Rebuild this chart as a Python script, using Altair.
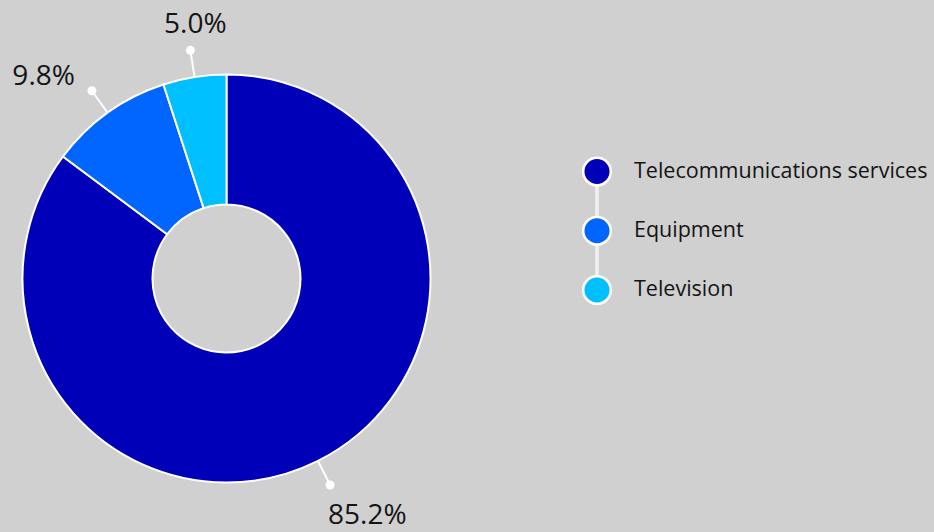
import altair as alt
import pandas as pd

categories = ["Telecommunications services", "Equipment", "Television"]
shares = [85.2, 9.8, 5.0]
labels = ["85.2%", "9.8%", "5.0%"]
colors = ["#0000B8", "#0066FF", "#00BFFF"]

df = pd.DataFrame({
    "category": categories,
    "value": shares,
    "label": labels,
    "idx": list(range(len(categories))),
})

CX, CY = 226.5, 278.5
R_OUT, R_IN = 204, 74
R_DOT = 231
FONT = "Open Sans"
TXT = "#141414"

color_scale = alt.Scale(domain=categories, range=colors)

base = alt.Chart(df)

ring = base.mark_arc(
    outerRadius=R_OUT, innerRadius=R_IN, stroke="white", strokeWidth=2
).encode(
    theta=alt.Theta("value:Q", stack=True),
    color=alt.Color("category:N", scale=color_scale, legend=None),
    order=alt.Order("idx:Q"),
    x=alt.value(CX),
    y=alt.value(CY),
)

angles = base.transform_joinaggregate(
    total="sum(value)"
).transform_window(
    cum="sum(value)", sort=[alt.SortField("idx")], frame=[None, 0]
).transform_calculate(
    mid="(datum.cum - datum.value / 2) / datum.total * 2 * PI",
    x1=f"{CX} + {R_OUT} * sin((datum.cum - datum.value / 2) / datum.total * 2 * PI)",
    y1=f"{CY} - {R_OUT} * cos((datum.cum - datum.value / 2) / datum.total * 2 * PI)",
    x2=f"{CX} + {R_DOT} * sin((datum.cum - datum.value / 2) / datum.total * 2 * PI)",
    y2=f"{CY} - {R_DOT} * cos((datum.cum - datum.value / 2) / datum.total * 2 * PI)",
)

leaders = angles.mark_rule(color="white", strokeWidth=2).encode(
    x=alt.X("x1:Q", scale=None),
    y=alt.Y("y1:Q", scale=None),
    x2="x2:Q",
    y2="y2:Q",
)

dots = angles.mark_point(filled=True, color="white", opacity=1, size=80).encode(
    x=alt.X("x2:Q", scale=None),
    y=alt.Y("y2:Q", scale=None),
)

label_styles = {
    "Telecommunications services": dict(align="left", dx=-2, dy=31),
    "Equipment": dict(align="right", dx=-17, dy=-14),
    "Television": dict(align="center", dx=5, dy=-25),
}

label_layers = []
for cat, st in label_styles.items():
    label_layers.append(
        angles.transform_filter(alt.datum.category == cat).mark_text(
            radius=R_DOT, baseline="middle", font=FONT, fontSize=28,
            color=TXT, **st
        ).encode(
            theta=alt.Theta("mid:Q", scale=None),
            text="label:N",
            x=alt.value(CX),
            y=alt.value(CY),
        )
    )

LX = 597
legend_y = alt.Y(
    "category:N",
    scale=alt.Scale(type="point", domain=categories, range=[171.5, 290], padding=0),
    axis=None,
)

legend_line = base.mark_rule(color="#EFEFEF", strokeWidth=3).encode(
    x=alt.value(LX),
    y=alt.value(171.5),
    y2=alt.value(290),
)

legend_dots = base.mark_point(
    filled=True, opacity=1, size=760, stroke="white", strokeWidth=2.5
).encode(
    x=alt.value(LX),
    y=legend_y,
    fill=alt.Fill("category:N", scale=color_scale, legend=None),
)

legend_text = base.mark_text(
    align="left", baseline="middle", font=FONT, fontSize=21.5, color=TXT
).encode(
    x=alt.value(634),
    y=legend_y,
    text="category:N",
)

chart = alt.layer(
    ring, leaders, dots, *label_layers, legend_line, legend_dots, legend_text
).resolve_scale(
    y="independent", x="independent", theta="independent"
).properties(
    width=934, height=532, padding=0,
    autosize=alt.AutoSizeParams(type="none"),
    background="#D0D0D0",
).configure_view(stroke=None)

chart.save("out.html", embed_options={"renderer": "svg", "actions": False})
